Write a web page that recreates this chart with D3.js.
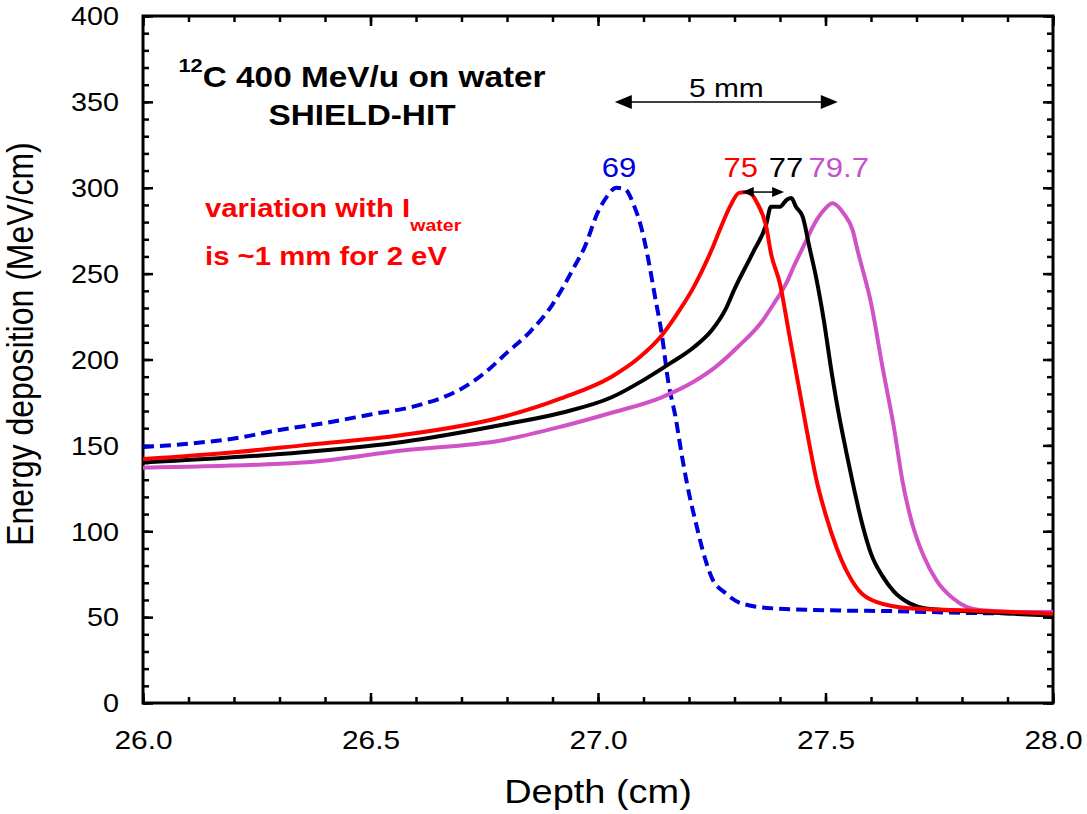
<!DOCTYPE html>
<html>
<head>
<meta charset="utf-8">
<script src="https://cdn.jsdelivr.net/npm/d3@7"></script>
<style>
  body { margin: 0; background: #fff; }
  text { font-family: "Liberation Sans", Arial, Helvetica, sans-serif; }
</style>
</head>
<body>
<svg id="chart" width="1087" height="814"></svg>
<script>
// Axis ranges and tick labels
const depthRange = [26, 28];
const energyRange = [0, 400];
const depthTicks = [26.0, 26.5, 27.0, 27.5, 28.0];
const energyTicks = [0, 50, 100, 150, 200, 250, 300, 350, 400];

// Bragg curves: [depth cm, MeV/cm]
const curve69 = [[26.00,149],[26.10,151],[26.20,154],[26.30,159],[26.40,163],[26.50,168],[26.60,173],
  [26.70,183],[26.75,192],[26.80,204],[26.85,216],[26.90,232],[26.95,255],[26.97,265],[27.00,286],
  [27.02,295],[27.04,300],[27.06,299],[27.08,289],[27.095,277],[27.11,259],[27.125,237],[27.14,215],
  [27.155,186],[27.17,167],[27.185,143],[27.20,122],[27.215,105],[27.23,89],[27.25,73],[27.28,64],
  [27.315,58],[27.39,55],[27.50,54],[27.645,53.5],[27.80,52.5],[28.00,52]];
const curve75 = [[26.00,142],[26.20,146],[26.35,150],[26.57,156],[26.79,166.5],[26.92,177.5],[27.03,190],
  [27.09,201],[27.14,214],[27.18,229],[27.21,242],[27.25,264],[27.27,277],[27.29,289],[27.31,297],
  [27.33,297.5],[27.35,291],[27.37,277],[27.38,262],[27.40,244],[27.42,215],[27.44,186],[27.46,157],
  [27.48,130],[27.50,110],[27.525,90],[27.55,75],[27.575,65],[27.61,59],[27.69,55],[27.80,54],[28.00,52]];
const curve77 = [[26.00,140],[26.35,146],[26.57,152],[26.79,162],[26.92,169],[27.03,178],[27.10,188],
  [27.16,198],[27.21,207],[27.25,217],[27.28,229],[27.30,241],[27.34,262],[27.37,279],[27.38,289],
  [27.40,289],[27.415,293],[27.425,294],[27.435,289],[27.45,283],[27.465,265],[27.48,247],[27.495,225],
  [27.515,190],[27.53,167],[27.545,147],[27.56,128],[27.58,105],[27.60,87],[27.625,74],[27.65,65],
  [27.685,58],[27.72,55],[27.80,53.5],[28.00,51]];
const curve797 = [[26.00,137],[26.35,140],[26.57,147],[26.79,153],[26.92,161],[27.03,169],[27.14,178],
  [27.21,187],[27.26,196],[27.31,208],[27.36,222],[27.39,234],[27.415,245],[27.43,254],[27.45,265],
  [27.48,281],[27.50,288],[27.515,291],[27.54,285],[27.56,275],[27.57,264],[27.58,254],
  [27.60,233],[27.625,196],[27.65,161],[27.67,128],[27.69,105],[27.715,86],[27.745,71],[27.78,61],
  [27.81,56],[27.845,54],[27.92,53],[28.00,53]];

// Peak labels (I-value, eV)
const peakNames = ["69", "75", "77", "79.7"];
const peakX = [27.046, 27.314, 27.413, 27.529];
const peakY = 306;

// text in the picture is a little wide, so stretch it sideways
const SX = 1.15;

const svg = d3.select("#chart");
const margin = { top: 16, right: 34, bottom: 111, left: 143 };
const width = 1087 - margin.left - margin.right;
const height = 814 - margin.top - margin.bottom;
const g = svg.append("g").attr("transform", `translate(${margin.left},${margin.top})`);

const x = d3.scaleLinear().domain(depthRange).range([0, width]);
const y = d3.scaleLinear().domain(energyRange).range([height, 0]);

const minorX = d3.range(26, 28.001, 0.1);
const minorY = d3.range(0, 400.1, 10);

function styleAxis(sel) {
  sel.select(".domain").remove();
  sel.selectAll("line").attr("stroke", "#000").attr("stroke-width", 2.5);
}

// minor ticks, all four sides, pointing inward
g.append("g").attr("transform", `translate(0,${height})`)
  .call(d3.axisBottom(x).tickValues(minorX).tickSize(-6).tickFormat("")).call(styleAxis);
g.append("g")
  .call(d3.axisTop(x).tickValues(minorX).tickSize(-6).tickFormat("")).call(styleAxis);
g.append("g")
  .call(d3.axisLeft(y).tickValues(minorY).tickSize(-6).tickFormat("")).call(styleAxis);
g.append("g").attr("transform", `translate(${width},0)`)
  .call(d3.axisRight(y).tickValues(minorY).tickSize(-6).tickFormat("")).call(styleAxis);

// major ticks + labels
const xAxis = g.append("g").attr("transform", `translate(0,${height})`)
  .call(d3.axisBottom(x).tickValues(depthTicks).tickSize(-10).tickFormat(d3.format(".1f")))
  .call(styleAxis);
xAxis.selectAll("text").attr("y", 0).attr("dy", 0)
  .attr("transform", `translate(0,46) scale(${SX},1)`)
  .attr("font-size", 26).attr("fill", "#000");

g.append("g")
  .call(d3.axisTop(x).tickValues(depthTicks).tickSize(-10).tickFormat("")).call(styleAxis);

const yAxis = g.append("g")
  .call(d3.axisLeft(y).tickValues(energyTicks).tickSize(-10).tickFormat(d3.format("d")))
  .call(styleAxis);
yAxis.selectAll("text").attr("x", 0).attr("dy", "0.35em")
  .attr("transform", `translate(-24,0) scale(${SX},1)`)
  .attr("font-size", 25).attr("fill", "#000");

g.append("g").attr("transform", `translate(${width},0)`)
  .call(d3.axisRight(y).tickValues(energyTicks).tickSize(-10).tickFormat("")).call(styleAxis);

// frame
g.append("rect").attr("width", width).attr("height", height)
  .attr("fill", "none").attr("stroke", "#000").attr("stroke-width", 3);

// curves
const line = d3.line().x(d => x(d[0])).y(d => y(d[1])).curve(d3.curveMonotoneX);
g.append("clipPath").attr("id", "plotclip")
  .append("rect").attr("width", width).attr("height", height);
const curves = g.append("g").attr("clip-path", "url(#plotclip)");

curves.append("path").datum(curve69).attr("d", line)
  .attr("fill", "none").attr("stroke", "#0000dd").attr("stroke-width", 4)
  .attr("stroke-dasharray", "11,6");
curves.append("path").datum(curve797).attr("d", line)
  .attr("fill", "none").attr("stroke", "#d052c4").attr("stroke-width", 4)
  .attr("stroke-linejoin", "round");
curves.append("path").datum(curve77).attr("d", line)
  .attr("fill", "none").attr("stroke", "#000").attr("stroke-width", 4)
  .attr("stroke-linejoin", "round");
curves.append("path").datum(curve75).attr("d", line)
  .attr("fill", "none").attr("stroke", "#ff0000").attr("stroke-width", 4)
  .attr("stroke-linejoin", "round");

// peak labels
const peakColors = ["#0000dd", "#ff0000", "#000000", "#c450cc"];
peakNames.forEach((name, i) => {
  g.append("text")
    .attr("transform", `translate(${x(peakX[i])},${y(peakY)}) scale(${SX},1)`)
    .attr("text-anchor", "middle").attr("font-size", 27)
    .attr("fill", peakColors[i]).text(name);
});

// double arrows
function doubleArrow(x0, x1, v, head, half) {
  const px0 = x(x0), px1 = x(x1), py = y(v);
  g.append("line").attr("x1", px0 + head - 2).attr("x2", px1 - head + 2)
    .attr("y1", py).attr("y2", py).attr("stroke", "#000").attr("stroke-width", 1.5);
  g.append("path").attr("fill", "#000")
    .attr("d", `M${px0},${py}L${px0 + head},${py - half}L${px0 + head},${py + half}Z`);
  g.append("path").attr("fill", "#000")
    .attr("d", `M${px1},${py}L${px1 - head},${py - half}L${px1 - head},${py + half}Z`);
}
doubleArrow(27.037, 27.527, 350, 17, 7);
doubleArrow(27.316, 27.409, 297.5, 12, 5);

g.append("text")
  .attr("transform", `translate(${x(27.282)},${97 - margin.top}) scale(${SX},1)`)
  .attr("text-anchor", "middle").attr("font-size", 26).text("5 mm");

// title block
const title = g.append("text")
  .attr("transform", `translate(${362 - margin.left},${87 - margin.top}) scale(${SX},1)`)
  .attr("text-anchor", "middle").attr("font-size", 29).attr("font-weight", "bold");
title.append("tspan").attr("font-size", 19).attr("dy", -15).text("12");
title.append("tspan").attr("dy", 15).text("C 400 MeV/u on water");
g.append("text")
  .attr("transform", `translate(${362 - margin.left},${125 - margin.top}) scale(${SX},1)`)
  .attr("text-anchor", "middle").attr("font-size", 29).attr("font-weight", "bold")
  .text("SHIELD-HIT");

// red note
const note = g.append("text")
  .attr("transform", `translate(${205 - margin.left},${217 - margin.top}) scale(${SX},1)`)
  .attr("font-size", 25.5).attr("font-weight", "bold").attr("fill", "#ff0000");
note.append("tspan").text("variation with I");
note.append("tspan").attr("font-size", 17).attr("dy", 14).text("water");
g.append("text")
  .attr("transform", `translate(${205 - margin.left},${265 - margin.top}) scale(${SX},1)`)
  .attr("font-size", 25.5).attr("font-weight", "bold").attr("fill", "#ff0000")
  .text("is ~1 mm for 2 eV");

// axis titles
svg.append("text")
  .attr("transform", `translate(${margin.left + width / 2},803) scale(${SX},1)`)
  .attr("text-anchor", "middle").attr("font-size", 33).text("Depth (cm)");
svg.append("text")
  .attr("transform", `translate(33,344) scale(${SX},1) rotate(-90)`)
  .attr("text-anchor", "middle").attr("font-size", 32).text("Energy deposition (MeV/cm)");
</script>
</body>
</html>
